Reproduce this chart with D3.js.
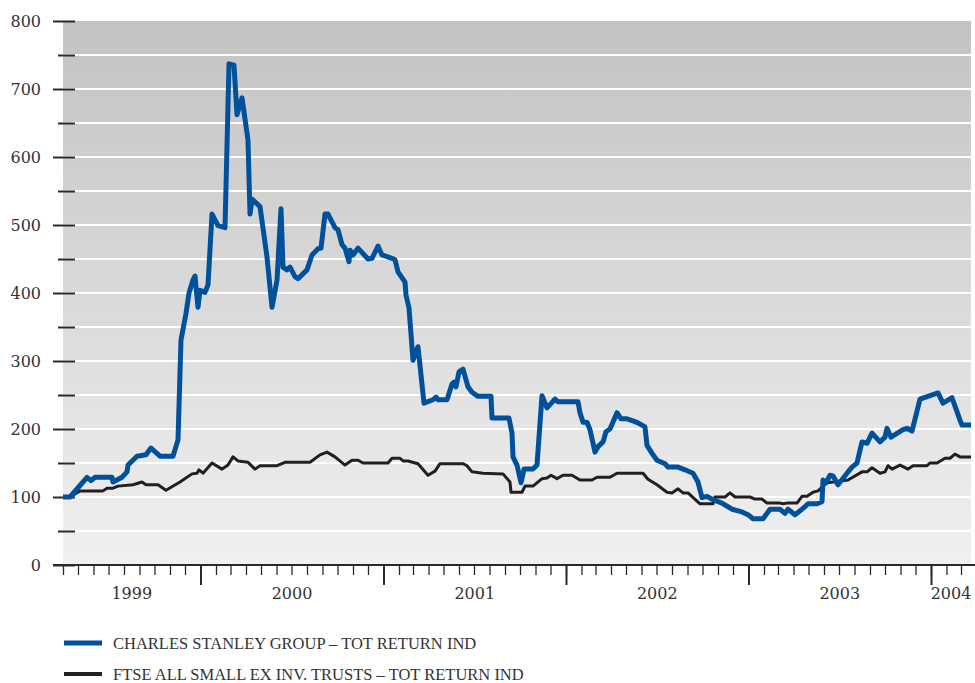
<!DOCTYPE html>
<html>
<head>
<meta charset="utf-8">
<script src="https://cdn.jsdelivr.net/npm/d3@7"></script>
<style>
  html, body { margin: 0; padding: 0; background: #ffffff; }
  svg { display: block; }
</style>
</head>
<body>
<svg id="chart" width="975" height="683"></svg>
<script>
// ---- DATA ----
const startDate = "1999-04-01";
const endDate = "2004-03-21";
const seriesNames = ["CHARLES STANLEY GROUP \u2013 TOT RETURN IND", "FTSE ALL SMALL EX INV. TRUSTS \u2013 TOT RETURN IND"];

// days since startDate, and index values
const csDays = [0,14,48,56,64,98,100,118,128,130,148,166,176,194,220,230,236,246,252,260,264,270,274,284,290,298,310,324,332,342,348,358,370,374,378,394,408,418,428,436,440,448,454,464,470,488,498,510,516,524,530,544,550,558,564,572,574,580,590,610,618,630,638,658,664,670,684,686,692,700,706,710,722,740,746,750,768,778,782,786,792,800,810,818,830,856,858,892,898,900,908,916,922,940,948,958,968,984,990,1030,1034,1040,1048,1054,1064,1070,1080,1086,1094,1108,1116,1128,1140,1150,1164,1168,1180,1188,1204,1210,1230,1244,1260,1270,1278,1288,1300,1318,1338,1358,1370,1380,1400,1414,1434,1444,1450,1464,1478,1490,1508,1518,1520,1526,1534,1540,1550,1568,1578,1588,1598,1608,1618,1634,1644,1648,1656,1680,1688,1698,1714,1750,1760,1778,1794,1798,1816];
const csValues = [100,100,129,124,129,129,122,129,137,147,160,162,172,160,160,184,331,370,400,419,425,379,404,401,412,516,499,496,737,735,662,687,625,516,538,527,453,379,419,524,438,434,438,424,421,434,456,465,466,516,516,496,493,471,466,446,463,456,466,450,451,469,456,451,449,431,416,397,378,301,313,321,238,243,247,243,243,266,269,262,284,288,262,254,248,248,216,216,194,159,147,121,141,141,147,249,231,244,240,240,224,210,210,199,166,174,181,196,200,224,215,215,212,209,203,176,162,154,149,144,144,140,135,122,99,101,96,91,82,78,74,68,68,82,82,76,82,74,82,90,90,93,125,121,132,131,118,135,144,150,181,179,194,181,188,201,188,199,201,197,244,253,238,246,213,206,206];

const ftseDays = [0,14,34,80,88,100,110,140,158,166,190,206,234,258,268,272,280,298,318,330,340,350,370,384,394,428,444,494,514,528,544,564,578,590,600,650,658,674,680,690,710,730,744,754,800,808,818,840,880,894,896,918,924,940,958,968,976,988,1000,1018,1034,1058,1068,1094,1108,1160,1170,1188,1208,1218,1230,1240,1250,1274,1300,1304,1324,1334,1344,1374,1384,1398,1408,1434,1440,1448,1468,1478,1488,1500,1510,1528,1540,1570,1598,1608,1618,1634,1644,1650,1658,1674,1690,1700,1728,1734,1748,1764,1774,1784,1794,1816];
const ftseValues = [100,100,109,109,113,113,116,118,122,118,118,110,122,134,135,140,135,150,141,147,159,153,151,141,146,146,151,151,162,166,159,147,154,154,150,150,157,157,153,153,149,132,138,149,149,146,137,135,134,122,107,107,116,116,127,128,132,127,132,132,125,125,129,129,135,135,126,118,107,106,112,106,106,90,90,100,100,106,100,100,97,97,91,91,90,91,91,101,101,107,109,121,122,125,137,137,143,135,137,146,141,147,141,146,146,150,150,157,157,163,159,159];

const yTickValues = [0,100,200,300,400,500,600,700,800];
const yMinorValues = [50,150,250,350,450,550,650,750];
const yearLabels = ["1999","2000","2001","2002","2003","2004"];

// ---- LAYOUT ----
const svg = d3.select("#chart");
const plot = { left: 63, right: 971, top: 21, bottom: 565 };
const t0 = d3.timeParse("%Y-%m-%d")(startDate);
const t1 = d3.timeParse("%Y-%m-%d")(endDate);

const x = d3.scaleTime().domain([t0, t1]).range([plot.left, plot.right]);
const y = d3.scaleLinear().domain([0, 800]).range([plot.bottom, plot.top]);

const toPoints = (days, vals) => days.map((d, i) => ({ date: d3.timeDay.offset(t0, d), v: vals[i] }));
const cs = toPoints(csDays, csValues);
const ftse = toPoints(ftseDays, ftseValues);

// background gradient
const defs = svg.append("defs");
const grad = defs.append("linearGradient").attr("id", "bg").attr("x1", 0).attr("y1", 0).attr("x2", 0).attr("y2", 1);
grad.append("stop").attr("offset", "0%").attr("stop-color", "#c3c3c3");
grad.append("stop").attr("offset", "100%").attr("stop-color", "#f0f0f0");

svg.append("rect")
  .attr("x", plot.left).attr("y", plot.top)
  .attr("width", plot.right - plot.left).attr("height", plot.bottom - plot.top)
  .attr("fill", "url(#bg)");

// gridlines (white, every 50)
const gridVals = d3.range(50, 800, 50);
svg.append("g").selectAll("line").data(gridVals).join("line")
  .attr("x1", plot.left).attr("x2", plot.right)
  .attr("y1", d => y(d)).attr("y2", d => y(d))
  .attr("stroke", "#ffffff").attr("stroke-width", 2);

const axisColor = "#2a2a2a";
const fontFam = "'DejaVu Serif', 'Liberation Serif', serif";

// y axis ticks & labels
const yAxisMajor = d3.axisLeft(y).tickValues(yTickValues).tickSize(22).tickPadding(12).tickFormat(d3.format("d"));
const gy = svg.append("g").attr("transform", `translate(${plot.left + 12},0)`).call(yAxisMajor);
gy.select(".domain").remove();
gy.selectAll(".tick line").attr("stroke", axisColor).attr("stroke-width", 2);
gy.selectAll(".tick text").attr("font-family", fontFam).attr("font-size", 16).attr("fill", "#333");

const yAxisMinor = d3.axisLeft(y).tickValues(yMinorValues).tickSize(17).tickFormat("");
const gym = svg.append("g").attr("transform", `translate(${plot.left + 12},0)`).call(yAxisMinor);
gym.select(".domain").remove();
gym.selectAll(".tick line").attr("stroke", axisColor).attr("stroke-width", 2);

// x axis baseline
svg.append("line")
  .attr("x1", 53).attr("x2", 975)
  .attr("y1", plot.bottom).attr("y2", plot.bottom)
  .attr("stroke", axisColor).attr("stroke-width", 2);

// monthly ticks
const months = d3.timeMonth.range(t0, d3.timeDay.offset(t1, 1));
const xAxisMinor = d3.axisBottom(x).tickValues(months).tickSize(10).tickFormat("");
const gxm = svg.append("g").attr("transform", `translate(0,${plot.bottom})`).call(xAxisMinor);
gxm.select(".domain").remove();
gxm.selectAll(".tick line").attr("stroke", axisColor).attr("stroke-width", 1.3);

// year ticks
const years = d3.timeYear.range(d3.timeDay.offset(t0, 1), t1);
const xAxisMajor = d3.axisBottom(x).tickValues(years).tickSize(20).tickFormat("");
const gxM = svg.append("g").attr("transform", `translate(0,${plot.bottom})`).call(xAxisMajor);
gxM.select(".domain").remove();
gxM.selectAll(".tick line").attr("stroke", axisColor).attr("stroke-width", 2);

// year labels centered in each visible year span
svg.append("g").selectAll("text").data(yearLabels).join("text")
  .attr("x", d => {
    const a = new Date(+d, 0, 1), b = new Date(+d + 1, 0, 1);
    const lo = Math.max(x(a), x(t0)), hi = Math.min(x(b), x(t1));
    return (lo + hi) / 2;
  })
  .attr("y", 599)
  .attr("text-anchor", "middle")
  .attr("font-family", fontFam).attr("font-size", 16).attr("fill", "#333")
  .text(d => d);

// lines
const line = d3.line().x(d => x(d.date)).y(d => y(d.v)).curve(d3.curveLinear);

svg.append("path").datum(ftse)
  .attr("d", line).attr("fill", "none")
  .attr("stroke", "#231f20").attr("stroke-width", 3)
  .attr("stroke-linejoin", "round");

svg.append("path").datum(cs)
  .attr("d", line).attr("fill", "none")
  .attr("stroke", "#00519c").attr("stroke-width", 5)
  .attr("stroke-linejoin", "round");

// legend
const legend = svg.append("g");
const legendColors = ["#00519c", "#231f20"];
const legendWidths = [5, 4];
const legendY = [643, 674];
seriesNames.forEach((name, i) => {
  legend.append("line")
    .attr("x1", 64).attr("x2", 102)
    .attr("y1", legendY[i]).attr("y2", legendY[i])
    .attr("stroke", legendColors[i]).attr("stroke-width", legendWidths[i]);
  legend.append("text")
    .attr("x", 113).attr("y", legendY[i])
    .attr("dy", "0.36em")
    .attr("font-family", "'Liberation Serif', 'DejaVu Serif', serif")
    .attr("font-size", 16.5).attr("fill", "#333")
    .text(name);
});
</script>
</body>
</html>
